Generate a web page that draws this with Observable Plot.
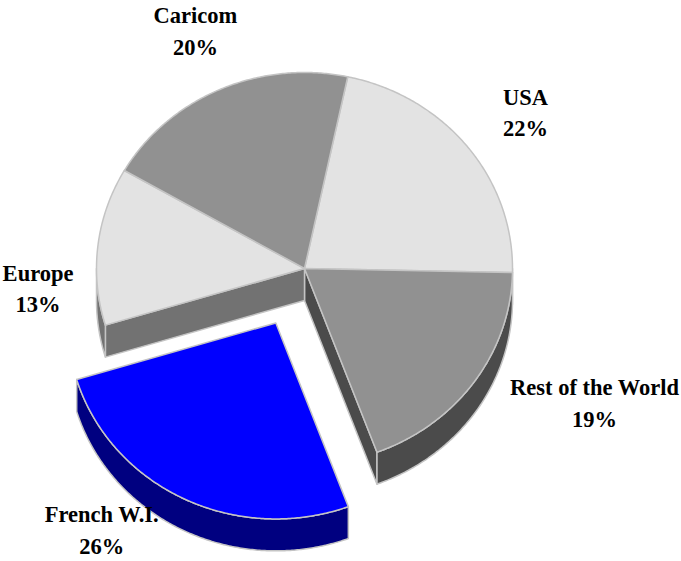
<!DOCTYPE html>
<html><head><meta charset="utf-8">
<script src="https://cdn.jsdelivr.net/npm/d3@7"></script>
<script src="https://cdn.jsdelivr.net/npm/@observablehq/plot@0.6"></script>
<style>html,body{margin:0;padding:0;background:#fff;}</style>
</head><body><div id="chart"></div>
<script>
// ---- data ----
const categories = ["USA", "Rest of the World", "French W.I.", "Europe", "Caricom"];
const shares = [22, 19, 26, 13, 20];
const topColors = ["#e3e3e3", "#919191", "#0000ff", "#e3e3e3", "#919191"];
const sideColors = ["#727272", "#4b4b4b", "#000080", "#727272", "#4b4b4b"];
const explodedFlags = [false, false, true, false, false];

// ---- layout ----
const startAngle = 12;          // degrees clockwise from 12 o'clock
const depth = 0.163;            // extrusion, in y units
const explodeDist = 0.31;
const labelAngleDelta = [1.5, -9.2, 12, -11.1, 0.6];
const labelRadius = [1.328, 1.554, 1.348, 1.285, 1.32];
const W = 681, H = 561;
const xDomain = [-304 / 208, (W - 304) / 208];
const yDomain = [-268 / 196, (H - 268) / 196];
const edge = "#c4c4c4";

const rad = d => d * Math.PI / 180;
let acc = startAngle;
const slices = categories.map((c, i) => {
  const a0 = acc, a1 = acc + shares[i] * 3.6; acc = a1;
  const mid = (a0 + a1) / 2;
  const e = explodedFlags[i] ? explodeDist : 0;
  return {c, i, a0, a1, mid, ox: e * Math.sin(rad(mid)), oy: -e * Math.cos(rad(mid))};
});
const pt = (s, a, dz = 0) => ({x: s.ox + Math.sin(rad(a)), y: s.oy - Math.cos(rad(a)) + dz});
function arc(s, a0, a1, dz) {
  const n = Math.max(2, Math.ceil(Math.abs(a1 - a0) / 0.5));
  return d3.range(n + 1).map(k => pt(s, a0 + (a1 - a0) * k / n, dz));
}
const topFace = s => [{x: s.ox, y: s.oy}, ...arc(s, s.a0, s.a1, 0)];
function wall(s) {
  const lo = Math.max(s.a0, 90), hi = Math.min(s.a1, 270);
  if (hi <= lo) return null;
  return [...arc(s, lo, hi, 0), ...arc(s, hi, lo, depth)];
}
const face = (s, a) => [{x: s.ox, y: s.oy}, pt(s, a, 0), pt(s, a, depth), {x: s.ox, y: s.oy + depth}];

function sides(s) {
  const n = slices.length;
  const prev = slices[(s.i - 1 + n) % n], next = slices[(s.i + 1) % n];
  const out = [];
  const ex = explodedFlags[s.i];
  if (Math.sin(rad(s.a0)) < 0 && (ex || explodedFlags[prev.i])) out.push(face(s, s.a0));
  if (Math.sin(rad(s.a1)) > 0 && (ex || explodedFlags[next.i])) out.push(face(s, s.a1));
  const w = wall(s); if (w) out.push(w);
  return out;
}

const poly = (data, fill) => Plot.line(data, {x: "x", y: "y", fill, stroke: edge, strokeWidth: 1.5, curve: "linear-closed"});
const marks = [];
const normal = slices.filter(s => !explodedFlags[s.i]);
const pulled = slices.filter(s => explodedFlags[s.i]);
normal.forEach(s => sides(s).forEach(p => marks.push(poly(p, sideColors[s.i]))));
normal.forEach(s => marks.push(poly(topFace(s), topColors[s.i])));
pulled.forEach(s => {
  sides(s).forEach(p => marks.push(poly(p, sideColors[s.i])));
  marks.push(poly(topFace(s), topColors[s.i]));
});

const labels = slices.map(s => {
  const a = s.mid + labelAngleDelta[s.i], r = labelRadius[s.i];
  return {x: s.ox + r * Math.sin(rad(a)), y: s.oy - r * Math.cos(rad(a)), text: `${s.c}\n${shares[s.i]}%`};
});
marks.push(Plot.text(labels, {x: "x", y: "y", text: "text", textAnchor: "middle", lineAnchor: "middle",
  lineHeight: 1.4, fontSize: 22.5, fontWeight: "bold", fontFamily: "Liberation Serif", fill: "black", dy: -2}));

const chart = Plot.plot({
  width: W, height: H, margin: 0,
  x: {domain: xDomain, range: [0, W], axis: null},
  y: {domain: yDomain, range: [0, H], axis: null},
  style: {background: "white", overflow: "visible"},
  marks
});
document.getElementById("chart").appendChild(chart);
</script>
</body></html>
